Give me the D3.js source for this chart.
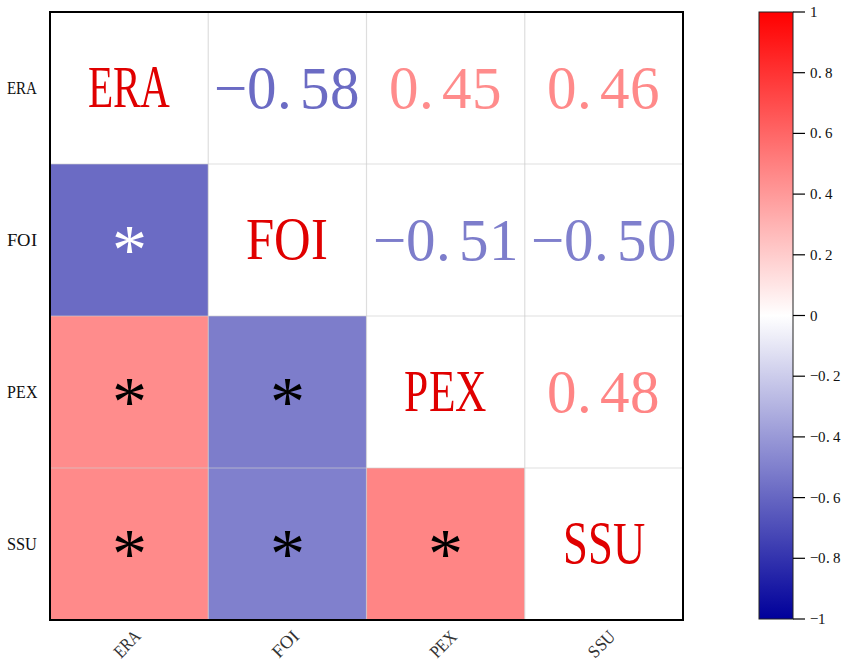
<!DOCTYPE html>
<html><head><meta charset="utf-8">
<script src="https://cdn.jsdelivr.net/npm/d3@7"></script>
<style>
@font-face { font-family: "ChartSerif"; src: local("Liberation Serif"), local("LiberationSerif"), local("LiberationSerif-Regular"), local("Tinos"); }
body{margin:0;background:#fff}
svg text{font-family:"ChartSerif","Liberation Serif","Tinos","Times New Roman",serif}
</style></head>
<body>
<svg id="chart" width="851" height="672"></svg>
<script>
// ---- data ----
const variables = ["ERA", "FOI", "PEX", "SSU"];
const corrERA = [1.00, -0.58, 0.45, 0.46];
const corrFOI = [-0.58, 1.00, -0.51, -0.50];
const corrPEX = [0.45, -0.51, 1.00, 0.48];
const corrSSU = [0.46, -0.50, 0.48, 1.00];
const significant = [
  [false, true, true, true],
  [true, false, true, true],
  [true, true, false, true],
  [true, true, true, false]
];
const colorbarTicks = [1, 0.8, 0.6, 0.4, 0.2, 0, -0.2, -0.4, -0.6, -0.8, -1];

const matrix = [corrERA, corrFOI, corrPEX, corrSSU];

// ---- layout ----
const svg = d3.select("#chart");
const plot = {left: 50, top: 12, right: 683, bottom: 620};
const cb = {left: 759, right: 793, top: 12, bottom: 619};

const x = d3.scaleBand().domain(variables).range([plot.left, plot.right]);
const y = d3.scaleBand().domain(variables).range([plot.top, plot.bottom]);
const color = d3.scaleLinear().domain([-1, 0, 1]).range(["#00009a", "#ffffff", "#ff0000"]);

const cells = [];
matrix.forEach((row, i) => row.forEach((v, j) => cells.push({row: variables[i], col: variables[j], i, j, v})));

svg.append("g").selectAll("rect").data(cells).join("rect")
  .attr("x", d => x(d.col)).attr("y", d => y(d.row))
  .attr("width", x.bandwidth()).attr("height", y.bandwidth())
  .attr("fill", d => d.i > d.j ? color(d.v) : "#ffffff");

const grid = svg.append("g").attr("stroke", "rgba(205,205,205,0.65)").attr("stroke-width", 1.2);
variables.slice(1).forEach(v => {
  grid.append("line").attr("x1", x(v)).attr("x2", x(v)).attr("y1", plot.top).attr("y2", plot.bottom);
  grid.append("line").attr("y1", y(v)).attr("y2", y(v)).attr("x1", plot.left).attr("x2", plot.right);
});

const fs = 59;
cells.forEach(d => {
  const cx = x(d.col) + x.bandwidth() / 2;
  const cy = y(d.row) + y.bandwidth() / 2;
  if (d.i === d.j) {
    svg.append("text").attr("x", cx).attr("y", cy + fs * 0.33)
      .attr("text-anchor", "middle").attr("font-size", fs)
      .attr("fill", "#e00000")
      .attr("textLength", d.row.length * 27.5).attr("lengthAdjust", "spacingAndGlyphs")
      .text(d.row);
  } else if (d.i < d.j) {
    const s = d3.format(".2f")(d.v);
    const parts = s.split(".");
    const t = svg.append("text").attr("x", cx).attr("y", cy + fs * 0.335)
      .attr("text-anchor", "middle").attr("font-size", fs)
      .attr("fill", color(d.v));
    t.append("tspan").text(parts[0] + ".");
    t.append("tspan").attr("dx", 8).text(parts[1]);
  } else if (significant[d.i][d.j]) {
    svg.append("text").attr("x", cx).attr("y", cy + 33)
      .attr("text-anchor", "middle").attr("font-size", 70)
      .attr("fill", Math.abs(d.v) > 0.55 ? "#ffffff" : "#000000")
      .text("*");
  }
});

svg.append("rect").attr("x", plot.left).attr("y", plot.top)
  .attr("width", plot.right - plot.left).attr("height", plot.bottom - plot.top)
  .attr("fill", "none").attr("stroke", "#000").attr("stroke-width", 2);

variables.forEach(v => {
  svg.append("text")
    .attr("x", 37).attr("y", y(v) + y.bandwidth() / 2 + 6)
    .attr("text-anchor", "end").attr("font-size", 18)
    .attr("fill", "#111")
    .attr("textLength", v.length * 10).attr("lengthAdjust", "spacingAndGlyphs")
    .text(v);
  svg.append("text")
    .attr("transform", `translate(${x(v) + x.bandwidth() / 2 - 2},644) rotate(-45)`)
    .attr("text-anchor", "middle").attr("font-size", 18)
    .attr("dy", "0.33em")
    .attr("fill", "#333")
    .attr("textLength", v.length * 10).attr("lengthAdjust", "spacingAndGlyphs")
    .text(v);
});

const defs = svg.append("defs");
const grad = defs.append("linearGradient").attr("id", "cbgrad")
  .attr("x1", 0).attr("x2", 0).attr("y1", 1).attr("y2", 0);
d3.range(0, 1.0001, 0.05).forEach(t => {
  grad.append("stop").attr("offset", t).attr("stop-color", color(-1 + 2 * t));
});
const cbScale = d3.scaleLinear().domain([-1, 1]).range([cb.bottom, cb.top]);
svg.append("rect").attr("x", cb.left).attr("y", cb.top)
  .attr("width", cb.right - cb.left).attr("height", cb.bottom - cb.top)
  .attr("fill", "url(#cbgrad)").attr("stroke", "#222").attr("stroke-width", 1);
colorbarTicks.forEach(v => {
  const yy = cbScale(v);
  svg.append("line").attr("x1", cb.right).attr("x2", cb.right + 12)
    .attr("y1", yy).attr("y2", yy).attr("stroke", "#000").attr("stroke-width", 1.2);
  const s = v === 0 ? "0" : (Math.abs(v) === 1 ? d3.format("d")(v) : d3.format(".1f")(v));
  const parts = s.split(".");
  const t = svg.append("text")
    .attr("x", cb.right + 17).attr("y", yy + 5)
    .attr("font-size", 15).attr("fill", "#111");
  if (parts.length > 1) {
    t.append("tspan").text(parts[0] + ".");
    t.append("tspan").attr("dx", 3).text(parts[1]);
  } else {
    t.text(s);
  }
});
</script>
</body></html>
